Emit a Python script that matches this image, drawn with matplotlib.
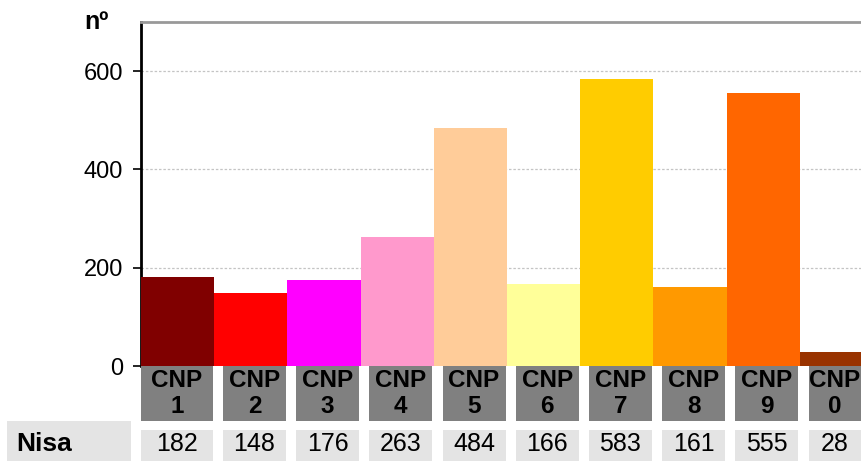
import matplotlib
matplotlib.use("Agg")
import matplotlib.pyplot as plt
import matplotlib.transforms as mtransforms
from matplotlib.patches import Rectangle

plt.rcParams['font.family'] = ['Liberation Sans', 'DejaVu Sans']

categories = ["CNP\n1", "CNP\n2", "CNP\n3", "CNP\n4", "CNP\n5",
              "CNP\n6", "CNP\n7", "CNP\n8", "CNP\n9", "CNP\n0"]
values = [182, 148, 176, 263, 484, 166, 583, 161, 555, 28]
row_label = "Nisa"
colors = ["#800000", "#FF0000", "#FF00FF", "#FF99CC", "#FFCC99",
          "#FFFF99", "#FFCC00", "#FF9900", "#FF6600", "#993300"]
yticks = [0, 200, 400, 600]
y_label = "nº"

W, H = 861, 461
fig = plt.figure(figsize=(W / 100, H / 100), dpi=100)

ax_left = 141 / W
ax_bottom = 1 - 366 / H
ax_top = 1 - 22 / H
ax = fig.add_axes([ax_left, ax_bottom, 1 - ax_left, ax_top - ax_bottom])

x = list(range(len(values)))
ax.bar(x, values, width=1.0, color=colors, zorder=3)
xmax = -0.5 + (W - 141) / 73.2
ax.set_xlim(-0.5, xmax)
ax.set_ylim(0, 700)
ax.set_yticks(yticks)
ax.set_yticklabels([str(t) for t in yticks], fontsize=17)
ax.tick_params(axis='y', direction='out', length=6, width=1.2, pad=7, color='black')
ax.set_xticks([])
for t in yticks[1:]:
    ax.axhline(t, color='#c4c4c4', lw=0.9, ls=(0, (2, 1.5)), zorder=1)

ax.spines['right'].set_visible(False)
ax.spines['bottom'].set_visible(False)
ax.spines['left'].set_color('black')
ax.spines['left'].set_linewidth(2)
ax.spines['top'].set_color('#999999')
ax.spines['top'].set_linewidth(2)

fig.text(108 / W, 1 - 22 / H, y_label, fontsize=18, fontweight='bold',
         ha='right', va='center')

# table below the chart: x in data coords, y in figure coords
trans = mtransforms.blended_transform_factory(ax.transData, fig.transFigure)
gap = 0.12
hdr_y0, hdr_y1 = 1 - 421 / H, 1 - 366 / H
val_y0, val_y1 = 0.0, 1 - 430 / H
for i, (cat, v) in enumerate(zip(categories, values)):
    left = i - 0.5 + (0 if i == 0 else gap)
    right = min(i + 0.5 - 0.02, xmax)
    fig.patches.append(Rectangle((left, hdr_y0), right - left, hdr_y1 - hdr_y0,
                                 transform=trans, facecolor='#808080',
                                 edgecolor='none', zorder=1))
    fig.patches.append(Rectangle((left, val_y0), right - left, val_y1 - val_y0,
                                 transform=trans, facecolor='#E4E4E4',
                                 edgecolor='none', zorder=1))
    cx = (left + right) / 2
    fig.text(cx, (hdr_y0 + hdr_y1) / 2, cat, transform=trans, fontsize=17.5,
             fontweight='bold', ha='center', va='center', linespacing=1.15)
    fig.text(cx, 1 - 444 / H, str(v), transform=trans, fontsize=18,
             ha='center', va='center')

fig.patches.append(Rectangle((7 / W, 0), (131 - 7) / W, 1 - 421 / H,
                             transform=fig.transFigure, facecolor='#E4E4E4',
                             edgecolor='none', zorder=1))
fig.text(16 / W, 1 - 444 / H, row_label, fontsize=19, fontweight='bold',
         ha='left', va='center')

fig.savefig("out.png", dpi=100)
